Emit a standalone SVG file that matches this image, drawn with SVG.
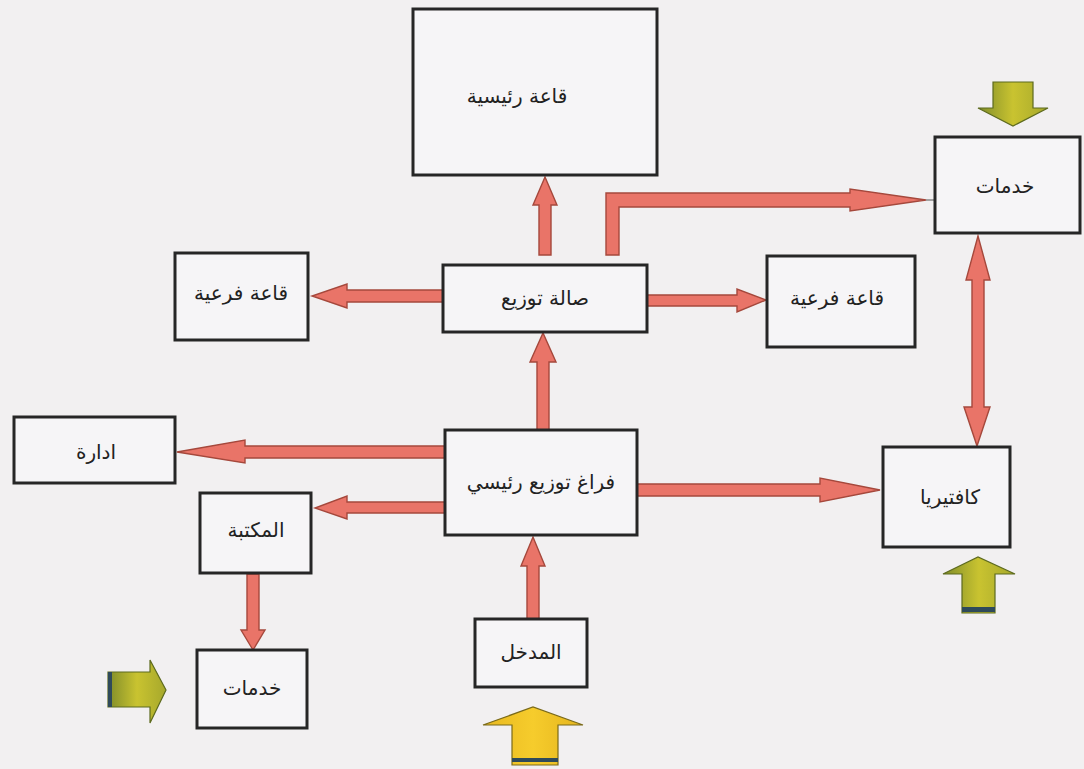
<svg xmlns="http://www.w3.org/2000/svg" width="1084" height="769" viewBox="0 0 1084 769">
<defs>
<style>
.box{fill:#f6f5f7;stroke:#262626;stroke-width:3}
.lbl{font-family:"DejaVu Sans","Noto Sans",sans-serif;font-size:20px;fill:#222;text-anchor:middle;dominant-baseline:central}
.arr{fill:#e97468;stroke:#a5483c;stroke-width:1.4;stroke-linejoin:miter}
.olive{fill:url(#og);stroke:#5d6a1e;stroke-width:1.2}
.yel{fill:url(#yg);stroke:#7a6a1a;stroke-width:1.2}
.stripe{fill:#2f4a5a}
</style>
<linearGradient id="og" x1="0" y1="0" x2="1" y2="0">
<stop offset="0" stop-color="#7f8c2a"/><stop offset="0.5" stop-color="#c9c330"/><stop offset="1" stop-color="#a6a82c"/>
</linearGradient>
<linearGradient id="yg" x1="0" y1="0" x2="1" y2="0">
<stop offset="0" stop-color="#e8b820"/><stop offset="0.5" stop-color="#f6cc2c"/><stop offset="1" stop-color="#e4b41e"/>
</linearGradient>
</defs>
<rect x="0" y="0" width="1084" height="769" fill="#f2f0f1"/>

<g id="connectors">
<polygon class="arr" points="539,255 539,205 533,205 545,177 557,205 551,205 551,255"/>
<polygon class="arr" points="606,255 606,193 850,193 850,189 926,200 850,211 850,207 619,207 619,255"/>
<line x1="926" y1="200" x2="935" y2="200" stroke="#555" stroke-width="1"/>
<polygon class="arr" points="443,290 347,290 347,284 312,296 347,308 347,302 443,302"/>
<polygon class="arr" points="647,295 737,295 737,289 766,300 737,312 737,306 647,306"/>
<polygon class="arr" points="537,430 537,362 530,362 543,333 556,362 549,362 549,430"/>
<polygon class="arr" points="445,446 245,446 245,440 177,452 245,463 245,458 445,458"/>
<polygon class="arr" points="445,502 347,502 347,496 315,508 347,519 347,513 445,513"/>
<polygon class="arr" points="637,484 820,484 820,478 880,490 820,502 820,496 637,496"/>
<polygon class="arr" points="527,619 527,566 521,566 533,537 545,566 539,566 539,619"/>
<polygon class="arr" points="247,574 247,630 241,630 253,650 265,630 259,630 259,574"/>
<polygon class="arr" points="978,236 990,280 984,280 984,407 990,407 977,446 964,407 972,407 972,280 966,280"/>
</g>

<g id="entry-arrows">
<polygon class="olive" points="993,82 1033,82 1033,108 1048,108 1013,126 978,108 993,108"/>
<polygon class="olive" points="962,613 962,574 943,574 978,557 1015,574 995,574 995,613"/>
<rect class="stripe" x="962" y="607" width="33" height="5"/>
<polygon class="olive" points="108,672 150,672 150,660 166,690 150,723 150,707 108,707"/>
<rect class="stripe" x="108" y="672" width="4" height="35"/>
<polygon class="yel" points="512,765 512,725 483,725 533,707 583,725 558,725 558,765"/>
<rect class="stripe" x="512" y="758" width="46" height="4"/>
</g>

<g id="main-hall"><rect class="box" x="413" y="9" width="244" height="166"/><text class="lbl" x="517" y="96">قاعة رئيسية</text></g>
<g id="services-top"><rect class="box" x="935" y="137" width="145" height="96"/><text class="lbl" x="1005" y="186">خدمات</text></g>
<g id="distribution-hall"><rect class="box" x="443" y="265" width="204" height="67"/><text class="lbl" x="545" y="298">صالة توزيع</text></g>
<g id="sub-hall-left"><rect class="box" x="175" y="253" width="133" height="87"/><text class="lbl" x="241" y="293">قاعة فرعية</text></g>
<g id="sub-hall-right"><rect class="box" x="767" y="256" width="148" height="91"/><text class="lbl" x="837" y="298">قاعة فرعية</text></g>
<g id="administration"><rect class="box" x="14" y="417" width="161" height="66"/><text class="lbl" x="96" y="452">ادارة</text></g>
<g id="main-space"><rect class="box" x="445" y="430" width="192" height="105"/><text class="lbl" x="541" y="482">فراغ توزيع رئيسي</text></g>
<g id="library"><rect class="box" x="200" y="493" width="111" height="80"/><text class="lbl" x="256" y="530">المكتبة</text></g>
<g id="services-bottom"><rect class="box" x="197" y="650" width="110" height="78"/><text class="lbl" x="252" y="688">خدمات</text></g>
<g id="entrance"><rect class="box" x="475" y="619" width="112" height="68"/><text class="lbl" x="531" y="652">المدخل</text></g>
<g id="cafeteria"><rect class="box" x="883" y="447" width="127" height="100"/><text class="lbl" x="950" y="497">كافتيريا</text></g>
</svg>
